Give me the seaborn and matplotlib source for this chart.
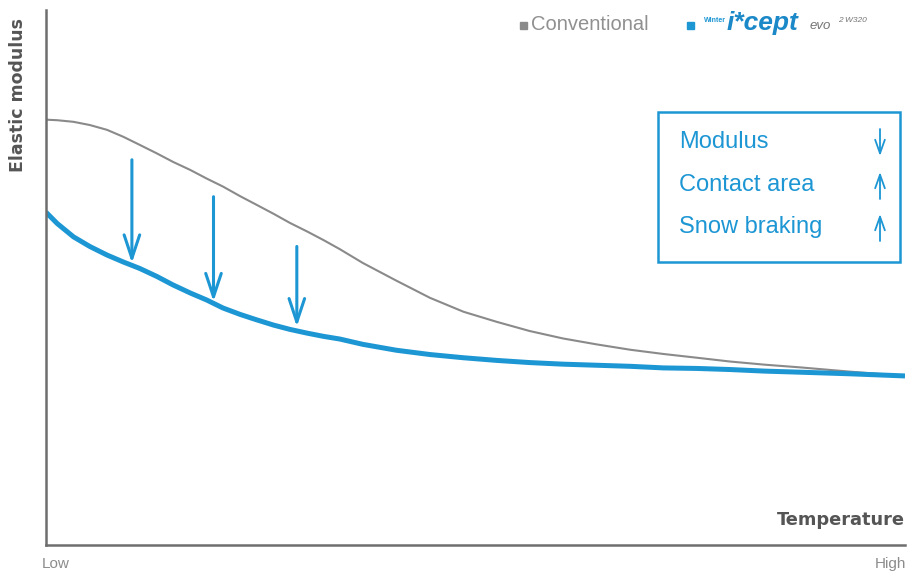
import numpy as np
import pandas as pd
import seaborn as sns
import matplotlib.pyplot as plt
from matplotlib.patches import Rectangle, FancyArrowPatch

# Temperature axis (0 = low, 100 = high) and relative elastic modulus
temperature = [0.0, 1.3, 3.2, 5.1, 7.1, 9.0, 10.9, 12.9, 14.8, 16.8, 18.7,
               20.6, 22.6, 24.5, 26.5, 28.4, 30.4, 32.3, 34.2, 36.9, 40.8,
               44.7, 48.6, 52.5, 56.3, 60.2, 64.1, 68.0, 71.9, 75.8, 79.6,
               83.7, 87.8, 93.6, 100.0]
conventional = [79.5, 79.4, 79.1, 78.5, 77.6, 76.3, 74.8, 73.2, 71.6, 70.1,
                68.5, 67.0, 65.2, 63.6, 61.9, 60.2, 58.6, 57.0, 55.3, 52.7,
                49.4, 46.2, 43.6, 41.7, 40.0, 38.6, 37.5, 36.5, 35.7, 35.0,
                34.3, 33.7, 33.2, 32.4, 31.6]
winter_icept = [62.2, 60.1, 57.6, 55.8, 54.2, 52.9, 51.7, 50.2, 48.6, 47.1,
                45.8, 44.3, 43.1, 42.1, 41.1, 40.3, 39.6, 39.0, 38.5, 37.5,
                36.4, 35.6, 35.0, 34.5, 34.1, 33.8, 33.6, 33.4, 33.1, 33.0,
                32.8, 32.5, 32.3, 32.0, 31.6]

# Modulus drop arrows: x position, start and end values
drop_x = [10.0, 19.5, 29.2]
drop_start = [72.0, 65.1, 55.8]
drop_end = [52.7, 45.5, 40.8]

box_labels = ["Modulus", "Contact area", "Snow braking"]
box_dirs = ["down", "up", "up"]

BLUE = "#1d96d4"
GRAY = "#8a8a8a"
AXIS = "#6e6e6e"

W, H = 908, 579
sns.set_theme(style="white")
plt.rcParams["font.family"] = ["Liberation Sans", "DejaVu Sans"]

fig = plt.figure(figsize=(W / 100, H / 100), dpi=100)
ax = fig.add_axes([46 / W, 1 - 545 / H, (905 - 46) / W, (545 - 10) / H])

df = pd.DataFrame({"Temperature": temperature,
                   "Conventional": conventional,
                   "Winter": winter_icept})
sns.lineplot(data=df, x="Temperature", y="Conventional", ax=ax,
             color=GRAY, lw=1.5, solid_joinstyle="round")
sns.lineplot(data=df, x="Temperature", y="Winter", ax=ax,
             color=BLUE, lw=3.6, solid_capstyle="butt", solid_joinstyle="round")

for x, y0, y1 in zip(drop_x, drop_start, drop_end):
    ax.annotate("", xy=(x, y1), xytext=(x, y0),
                arrowprops=dict(arrowstyle="->,head_length=0.6,head_width=0.2",
                                color=BLUE, lw=2.2, mutation_scale=28,
                                shrinkA=0, shrinkB=0))

ax.set_xlim(0, 100)
ax.set_ylim(0, 100)
ax.set_xticks([])
ax.set_yticks([])
ax.set_xlabel("")
ax.set_ylabel("")
for side in ["top", "right"]:
    ax.spines[side].set_visible(False)
for side in ["left", "bottom"]:
    ax.spines[side].set_color(AXIS)
    ax.spines[side].set_linewidth(1.8)


def fx(px):
    return px / W


def fy(py):
    return 1 - py / H


# axis captions
fig.text(fx(18), fy(95), "Elastic modulus", rotation=90, ha="center",
         va="center", fontsize=12.5, fontweight="bold", color="#555555",
         family="DejaVu Sans")
fig.text(fx(905), fy(520), "Temperature", ha="right", va="center",
         fontsize=12.8, fontweight="bold", color="#555555", family="DejaVu Sans")
fig.text(fx(42), fy(564), "Low", ha="left", va="center", fontsize=11,
         color="#8c8c8c")
fig.text(fx(906), fy(564), "High", ha="right", va="center", fontsize=11,
         color="#8c8c8c")

# legend
fig.patches.append(Rectangle((fx(520), fy(29)), 7 / W, 7 / H,
                             transform=fig.transFigure, color=GRAY))
fig.text(fx(531), fy(25), "Conventional", ha="left", va="center",
         fontsize=14.5, color="#909090")
fig.patches.append(Rectangle((fx(687), fy(29)), 7 / W, 7 / H,
                             transform=fig.transFigure, color=BLUE))
fig.text(fx(704), fy(21), "Winter", ha="left", va="center", fontsize=5,
         fontweight="bold", color=BLUE)
fig.text(fx(727), fy(23), "i*cept", ha="left", va="center", fontsize=19,
         fontweight="bold", style="italic", color="#1b88c8")
fig.text(fx(810), fy(26), "evo", ha="left", va="center", fontsize=9.5,
         style="italic", color="#777777")
fig.text(fx(838), fy(21), "2 W320", ha="left", va="center", fontsize=6,
         style="italic", color="#777777")

# summary box
fig.patches.append(Rectangle((fx(658), fy(262)), (900 - 658) / W,
                             (262 - 112) / H, transform=fig.transFigure,
                             fill=False, edgecolor=BLUE, lw=1.8))
rows_y = [142, 185, 227]
for label, d, py in zip(box_labels, box_dirs, rows_y):
    fig.text(fx(679), fy(py), label, ha="left", va="center", fontsize=17,
             color=BLUE)
    top, bot = fy(py - 13), fy(py + 14)
    start, end = (top, bot) if d == "down" else (bot, top)
    fig.patches.append(FancyArrowPatch(
        (fx(880), start), (fx(880), end), transform=fig.transFigure,
        arrowstyle="->,head_length=0.7,head_width=0.25", mutation_scale=14,
        color=BLUE, lw=1.3, shrinkA=0, shrinkB=0))

fig.savefig("out.png", dpi=100)
